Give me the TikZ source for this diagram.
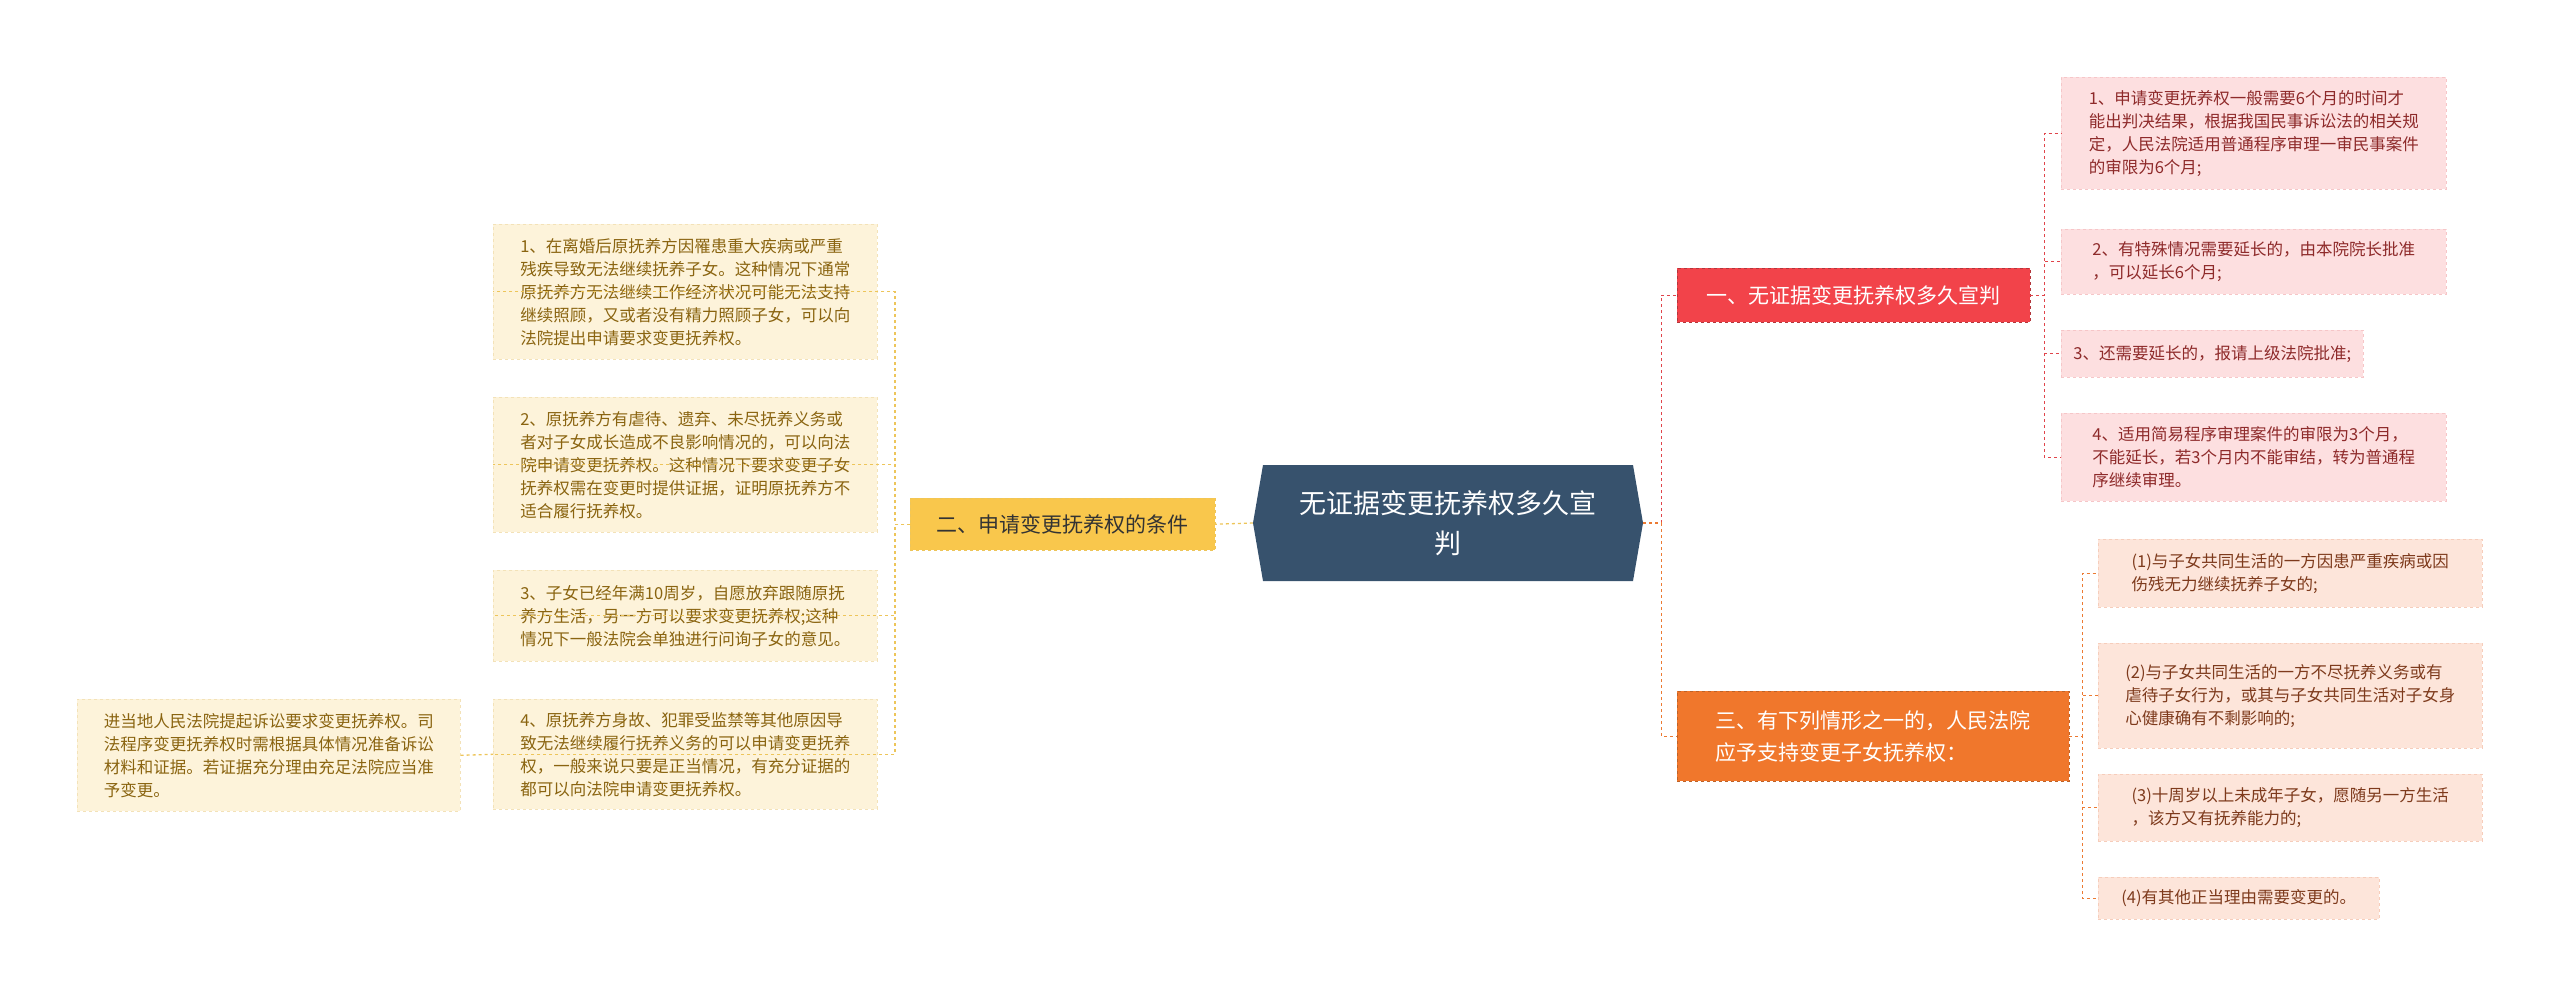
\documentclass[tikz,border=0pt]{standalone}
\usepackage{fontspec}
\setmainfont{Noto Sans CJK SC}
\begin{document}
\begin{tikzpicture}[x=1pt,y=-1pt,
  box/.style={anchor=north west,inner xsep=12pt,inner ysep=6pt,align=left,font=\fontsize{16.5}{23}\selectfont,dashed,line width=0.6pt},
  ybox/.style={box,fill=yfill,draw=yline,text=ytext},
  rbox/.style={box,fill=rfill,draw=rline,text=rtext},
  obox/.style={box,fill=ofill,draw=oline,text=otext},
  ycon/.style={draw=yconn,dashed,line width=1.3pt},
  rcon/.style={draw=rconn,dashed,line width=1.3pt},
  ocon/.style={draw=oconn,dashed,line width=1.3pt}]
\definecolor{yfill}{HTML}{FDF3DA}\definecolor{yline}{HTML}{F3E2B8}\definecolor{ytext}{HTML}{8A6410}
\definecolor{rfill}{HTML}{FDDFE0}\definecolor{rline}{HTML}{F6C6C8}\definecolor{rtext}{HTML}{8E2A2A}
\definecolor{ofill}{HTML}{FDE5DA}\definecolor{oline}{HTML}{F6CDBB}\definecolor{otext}{HTML}{7E3A1C}
\definecolor{yconn}{HTML}{EDC55A}\definecolor{rconn}{HTML}{E0444A}\definecolor{oconn}{HTML}{EC7A32}
\definecolor{cfill}{HTML}{37526D}\definecolor{redn}{HTML}{F2434A}\definecolor{orn}{HTML}{F0772C}\definecolor{yeln}{HTML}{F9C74C}
\useasboundingbox (0,0) rectangle (2560,997);
% center
\node[minimum width=390pt,minimum height=116pt,inner sep=0pt] (c) at (1448,523) {};
\fill[cfill] (1263,465) -- (1633,465) -- (1643,523) -- (1633,581) -- (1263,581) -- (1253,523) -- cycle;
\node[text=white,align=center,font=\fontsize{27}{40}\selectfont] at (c.center) {无证据变更抚养权多久宣\\判};
% level 1
\node[anchor=north west,minimum width=305pt,minimum height=52pt,fill=yeln,draw=yconn,dashed,text=black!80,font=\fontsize{21}{26}\selectfont] (y) at (910,498) {二、申请变更抚养权的条件};
\node[anchor=north west,minimum width=353pt,minimum height=54pt,fill=redn,draw=rconn!80!black,dashed,text=white,font=\fontsize{21}{26}\selectfont] (r) at (1677,268) {一、无证据变更抚养权多久宣判};
\node[anchor=north west,minimum width=392pt,minimum height=90pt,fill=orn,draw=oconn!80!black,dashed,text=white,align=left,inner xsep=12pt,font=\fontsize{21}{32}\selectfont] (o) at (1677,691) {三、有下列情形之一的，人民法院\\应予支持变更子女抚养权：};
% left children
\node[ybox,minimum width=384pt,minimum height=135pt] (l1) at (493,224) {1、在离婚后原抚养方因罹患重大疾病或严重\\残疾导致无法继续抚养子女。这种情况下通常\\原抚养方无法继续工作经济状况可能无法支持\\继续照顾，又或者没有精力照顾子女，可以向\\法院提出申请要求变更抚养权。};
\node[ybox,minimum width=384pt,minimum height=135pt] (l2) at (493,397) {2、原抚养方有虐待、遗弃、未尽抚养义务或\\者对子女成长造成不良影响情况的，可以向法\\院申请变更抚养权。这种情况下要求变更子女\\抚养权需在变更时提供证据，证明原抚养方不\\适合履行抚养权。};
\node[ybox,minimum width=384pt,minimum height=91pt] (l3) at (493,570) {3、子女已经年满10周岁，自愿放弃跟随原抚\\养方生活，另一方可以要求变更抚养权;这种\\情况下一般法院会单独进行问询子女的意见。};
\node[ybox,minimum width=384pt,minimum height=110pt] (l4) at (493,699) {4、原抚养方身故、犯罪受监禁等其他原因导\\致无法继续履行抚养义务的可以申请变更抚养\\权，一般来说只要是正当情况，有充分证据的\\都可以向法院申请变更抚养权。};
\node[ybox,minimum width=383pt,minimum height=112pt] (l5) at (77,699) {进当地人民法院提起诉讼要求变更抚养权。司\\法程序变更抚养权时需根据具体情况准备诉讼\\材料和证据。若证据充分理由充足法院应当准\\予变更。};
% red children
\node[rbox,minimum width=385pt,minimum height=112pt] (r1) at (2061,77) {1、申请变更抚养权一般需要6个月的时间才\\能出判决结果，根据我国民事诉讼法的相关规\\定，人民法院适用普通程序审理一审民事案件\\的审限为6个月;};
\node[rbox,minimum width=385pt,minimum height=65pt] (r2) at (2061,229) {2、有特殊情况需要延长的，由本院院长批准\\，可以延长6个月;};
\node[rbox,minimum width=302pt,minimum height=47pt] (r3) at (2061,330) {3、还需要延长的，报请上级法院批准;};
\node[rbox,minimum width=385pt,minimum height=88pt] (r4) at (2061,413) {4、适用简易程序审理案件的审限为3个月，\\不能延长，若3个月内不能审结，转为普通程\\序继续审理。};
% orange children
\node[obox,minimum width=384pt,minimum height=68pt] (o1) at (2098,539) {(1)与子女共同生活的一方因患严重疾病或因\\伤残无力继续抚养子女的;};
\node[obox,minimum width=384pt,minimum height=105pt] (o2) at (2098,643) {(2)与子女共同生活的一方不尽抚养义务或有\\虐待子女行为，或其与子女共同生活对子女身\\心健康确有不剩影响的;};
\node[obox,minimum width=384pt,minimum height=67pt] (o3) at (2098,774) {(3)十周岁以上未成年子女，愿随另一方生活\\，该方又有抚养能力的;};
\node[obox,minimum width=281pt,minimum height=42pt] (o4) at (2098,877) {(4)有其他正当理由需要变更的。};
% connectors
\draw[ycon] (c.west) -- (y.east);
\draw[ycon] (y.west) -- ++(-15,0) |- (l1.west);
\draw[ycon] (y.west) -- ++(-15,0) |- (l2.west);
\draw[ycon] (y.west) -- ++(-15,0) |- (l3.west);
\draw[ycon] (y.west) -- ++(-15,0) |- (l4.west);
\draw[ycon] (l5.east) -- (l4.west);
\draw[rcon] (c.east) -- ++(18,0) |- (r.west);
\draw[ocon] (c.east) -- ++(18,0) |- (o.west);
\draw[rcon] (r.east) -- ++(14,0) |- (r1.west);
\draw[rcon] (r.east) -- ++(14,0) |- (r2.west);
\draw[rcon] (r.east) -- ++(14,0) |- (r3.west);
\draw[rcon] (r.east) -- ++(14,0) |- (r4.west);
\draw[ocon] (o.east) -- ++(13,0) |- (o1.west);
\draw[ocon] (o.east) -- ++(13,0) |- (o2.west);
\draw[ocon] (o.east) -- ++(13,0) |- (o3.west);
\draw[ocon] (o.east) -- ++(13,0) |- (o4.west);
\end{tikzpicture}
\end{document}
